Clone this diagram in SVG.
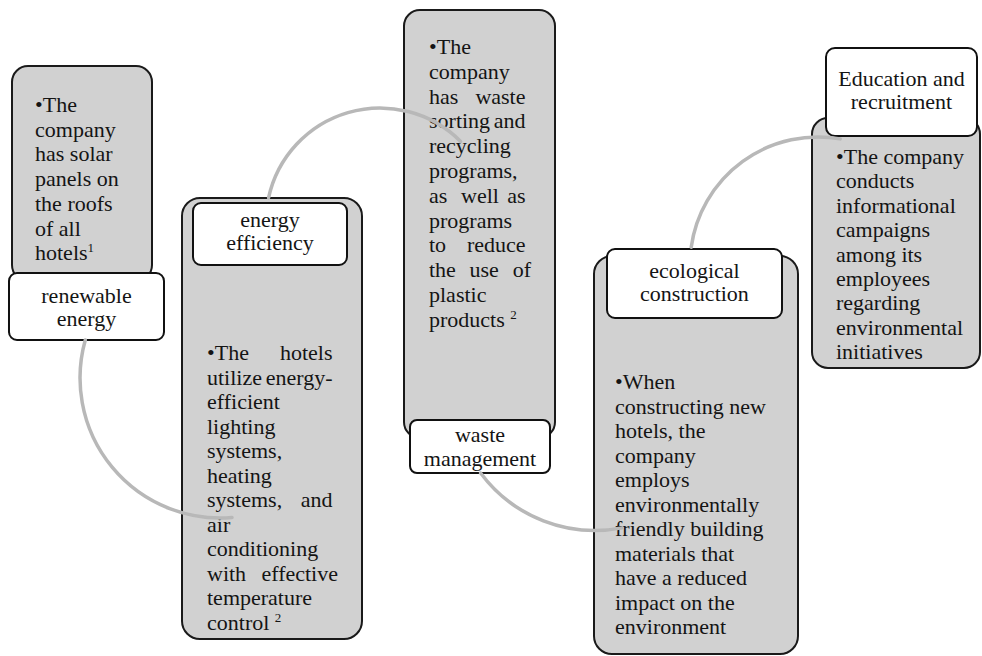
<svg xmlns="http://www.w3.org/2000/svg" width="982" height="656" viewBox="0 0 982 656">
  <style>
    .card { fill: #d1d1d1; stroke: #1a1a1a; stroke-width: 2; }
    .tag { fill: #ffffff; stroke: #111111; stroke-width: 2; }
    .body { font-family: "Liberation Serif", "Times New Roman", serif; font-size: 22px; fill: #141414; }
    .title { font-family: "Liberation Serif", "Times New Roman", serif; font-size: 22px; fill: #141414; text-anchor: middle; }
    .end { text-anchor: end; }
    .sup { font-size: 13px; }
    .link { fill: none; stroke: #b8b8b8; stroke-width: 3.5; stroke-linecap: round; }
  </style>
  <rect width="982" height="656" fill="#ffffff"/>

  <!-- renewable energy -->
  <g id="renewable-energy">
    <rect class="card" x="12" y="66" width="140" height="215" rx="16"/>
    <text class="body">
      <tspan x="35" y="112">•The</tspan>
      <tspan x="35" y="136.7">company</tspan>
      <tspan x="35" y="161.4">has solar</tspan>
      <tspan x="35" y="186.1">panels on</tspan>
      <tspan x="35" y="210.8">the roofs</tspan>
      <tspan x="35" y="235.5">of all</tspan>
      <tspan x="35" y="260.2">hotels<tspan class="sup" dy="-8">1</tspan></tspan>
    </text>
    <rect class="tag" x="9" y="273" width="155" height="67" rx="8"/>
    <text class="title" x="86.5" y="303">renewable</text>
    <text class="title" x="86.5" y="326">energy</text>
  </g>

  <!-- energy efficiency: justified column 207..338 -->
  <g id="energy-efficiency">
    <rect class="card" x="182" y="198" width="180" height="441" rx="18"/>
    <rect class="tag" x="193" y="203" width="154" height="62" rx="8"/>
    <text class="title" x="270" y="227">energy</text>
    <text class="title" x="270" y="250">efficiency</text>
    <text class="body">
      <tspan x="207" y="360">•The</tspan>
      <tspan x="207" y="384.5">utilize</tspan>
      <tspan x="207" y="409">efficient</tspan>
      <tspan x="207" y="433.5">lighting</tspan>
      <tspan x="207" y="458">systems,</tspan>
      <tspan x="207" y="482.5">heating</tspan>
      <tspan x="207" y="507">systems,</tspan>
      <tspan x="207" y="531.5">air</tspan>
      <tspan x="207" y="556">conditioning</tspan>
      <tspan x="207" y="580.5">with</tspan>
      <tspan x="207" y="605">temperature</tspan>
      <tspan x="207" y="629.5">control <tspan class="sup" dy="-8">2</tspan></tspan>
    </text>
    <text class="body end">
      <tspan x="338" y="360">hotels</tspan>
      <tspan x="338" y="384.5">energy-</tspan>
      <tspan x="338" y="507">and</tspan>
      <tspan x="338" y="580.5">effective</tspan>
    </text>
  </g>

  <!-- waste management: justified column 429..531 -->
  <g id="waste-management">
    <rect class="card" x="404" y="10" width="151" height="428" rx="16"/>
    <text class="body">
      <tspan x="429" y="54">•The</tspan>
      <tspan x="429" y="78.8">company</tspan>
      <tspan x="429" y="103.6">has</tspan>
      <tspan x="429" y="128.4">sorting</tspan>
      <tspan x="429" y="153.2">recycling</tspan>
      <tspan x="429" y="178">programs,</tspan>
      <tspan x="429" y="202.8">as</tspan>
      <tspan x="461" y="202.8">well</tspan>
      <tspan x="429" y="227.6">programs</tspan>
      <tspan x="429" y="252.4">to</tspan>
      <tspan x="429" y="277.2">the</tspan>
      <tspan x="469.5" y="277.2">use</tspan>
      <tspan x="429" y="302">plastic</tspan>
      <tspan x="429" y="326.8">products <tspan class="sup" dy="-8">2</tspan></tspan>
    </text>
    <text class="body end">
      <tspan x="531" y="103.6">waste</tspan>
      <tspan x="531" y="128.4">and</tspan>
      <tspan x="531" y="202.8">as</tspan>
      <tspan x="531" y="252.4">reduce</tspan>
      <tspan x="531" y="277.2">of</tspan>
    </text>
    <rect class="tag" x="410" y="420" width="140" height="53" rx="7"/>
    <text class="title" x="480" y="442">waste</text>
    <text class="title" x="480" y="466">management</text>
  </g>

  <!-- ecological construction -->
  <g id="ecological-construction">
    <rect class="card" x="594" y="256" width="204" height="398" rx="18"/>
    <rect class="tag" x="607" y="249" width="175" height="69" rx="8"/>
    <text class="title" x="694.5" y="278">ecological</text>
    <text class="title" x="694.5" y="301">construction</text>
    <text class="body">
      <tspan x="615" y="389">•When</tspan>
      <tspan x="615" y="413.5">constructing new</tspan>
      <tspan x="615" y="438">hotels, the</tspan>
      <tspan x="615" y="462.5">company</tspan>
      <tspan x="615" y="487">employs</tspan>
      <tspan x="615" y="511.5">environmentally</tspan>
      <tspan x="615" y="536">friendly building</tspan>
      <tspan x="615" y="560.5">materials that</tspan>
      <tspan x="615" y="585">have a reduced</tspan>
      <tspan x="615" y="609.5">impact on the</tspan>
      <tspan x="615" y="634">environment</tspan>
    </text>
  </g>

  <!-- education and recruitment -->
  <g id="education-recruitment">
    <rect class="card" x="812" y="118" width="168" height="250" rx="16"/>
    <rect class="tag" x="826" y="48" width="151" height="88" rx="9"/>
    <text class="title" x="901.5" y="86">Education and</text>
    <text class="title" x="901.5" y="109">recruitment</text>
    <text class="body">
      <tspan x="836" y="164">•The company</tspan>
      <tspan x="836" y="188.4">conducts</tspan>
      <tspan x="836" y="212.8">informational</tspan>
      <tspan x="836" y="237.2">campaigns</tspan>
      <tspan x="836" y="261.6">among its</tspan>
      <tspan x="836" y="286">employees</tspan>
      <tspan x="836" y="310.4">regarding</tspan>
      <tspan x="836" y="334.8">environmental</tspan>
      <tspan x="836" y="359.2">initiatives</tspan>
    </text>
  </g>

  <!-- curved links between consecutive topics -->
  <g id="connectors">
    <path class="link" d="M85.3,340 A140,140 0 0 0 232,517.5"/>
    <path class="link" d="M268.6,197.7 A114,114 0 0 1 460.6,141.4"/>
    <path class="link" d="M480.6,473 A142.5,142.5 0 0 0 622,527.9"/>
    <path class="link" d="M691.2,247.2 A128,128 0 0 1 840.2,138.9"/>
  </g>
</svg>
